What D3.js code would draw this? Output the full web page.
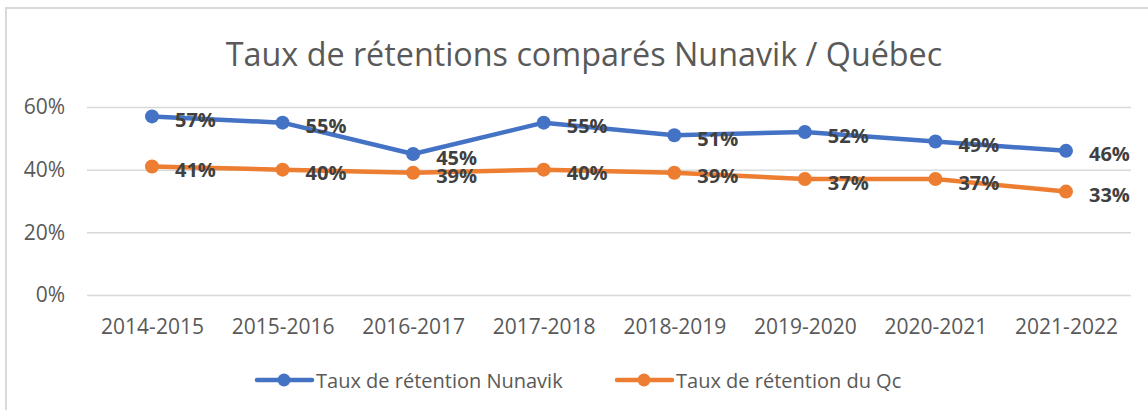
<!DOCTYPE html>
<meta charset="utf-8">
<head>
  <title>Taux de rétentions comparés Nunavik / Québec</title>
</head>
<style>
body { margin: 0; background: #fff; }
text { font-family: "Open Sans", sans-serif; }
.grid line { stroke: #d9d9d9; stroke-width: 1.5px; }
.grid .domain, .xaxis .domain { display: none; }
.tick text { fill: #595959; font-size: 21px; }
.lbl { font-weight: bold; font-size: 20px; fill: #404040; }
</style>
<body>
<script src="https://d3js.org/d3.v7.min.js"></script>
<script>

  var annees = ["2014-2015", "2015-2016", "2016-2017", "2017-2018",
                "2018-2019", "2019-2020", "2020-2021", "2021-2022"];
  var nunavik = [0.57, 0.55, 0.45, 0.55, 0.51, 0.52, 0.49, 0.46];
  var quebec  = [0.41, 0.40, 0.39, 0.40, 0.39, 0.37, 0.37, 0.33];
  var yTicks = [0, 0.2, 0.4, 0.6];
  var series = [
    {nom: "Taux de rétention Nunavik", valeurs: nunavik, couleur: "#4472c4"},
    {nom: "Taux de rétention du Qc",   valeurs: quebec,  couleur: "#ed7d31"}
  ];

  var width = 1148,
      height = 410;
  var svg = d3.select("body").append("svg")
      .attr("width", width)
      .attr("height", height);

  // cadre du graphique
  svg.append("rect")
      .attr("x", 6).attr("y", 8)
      .attr("width", width + 20).attr("height", height + 20)
      .attr("fill", "none")
      .attr("stroke", "#d9d9d9")
      .attr("stroke-width", 2);

  svg.append("text")
      .attr("x", 584).attr("y", 66)
      .attr("text-anchor", "middle")
      .attr("fill", "#595959")
      .style("font-size", "32.3px")
      .text("Taux de rétentions comparés Nunavik / Québec");

  var x = d3.scalePoint().domain(annees).range([152, 1066]);
  var y = d3.scaleLinear().domain([0, 0.6]).range([295, 107]);
  var left = 87, right = 1131;

  // grille + axe y
  svg.append("g")
      .attr("class", "grid")
      .attr("transform", "translate(" + left + ",0)")
      .call(d3.axisLeft(y).tickValues(yTicks)
        .tickSize(-(right - left))
        .tickPadding(22)
        .tickFormat(d3.format(".0%")));

  // axe x
  svg.append("g")
      .attr("class", "xaxis")
      .attr("transform", "translate(0,315)")
      .call(d3.axisBottom(x).tickSize(0).tickPadding(4))
      .selectAll("line").remove();

  var line = d3.line()
      .x(function(d, i) { return x(annees[i]); })
      .y(function(d) { return y(d); });

  series.forEach(function(s) {
    var g = svg.append("g");
    g.append("path")
        .datum(s.valeurs)
        .attr("d", line)
        .attr("fill", "none")
        .attr("stroke", s.couleur)
        .attr("stroke-width", 4.5)
        .attr("stroke-linejoin", "round");
    g.selectAll("circle")
        .data(s.valeurs)
        .enter().append("circle")
        .attr("cx", function(d, i) { return x(annees[i]); })
        .attr("cy", function(d) { return y(d); })
        .attr("r", 7)
        .attr("fill", s.couleur);
    g.selectAll(".lbl")
        .data(s.valeurs)
        .enter().append("text")
        .attr("class", "lbl")
        .attr("x", function(d, i) { return x(annees[i]) + 23; })
        .attr("y", function(d) { return y(d) + 3; })
        .attr("dominant-baseline", "central")
        .text(function(d) { return Math.round(d * 100) + "%"; });
  });

  // légende
  var leg = svg.append("g").attr("transform", "translate(0,380)");
  var legX = [257, 617];
  series.forEach(function(s, i) {
    leg.append("line")
        .attr("x1", legX[i]).attr("x2", legX[i] + 55)
        .attr("stroke", s.couleur).attr("stroke-width", 4.5)
        .attr("stroke-linecap", "round");
    leg.append("circle")
        .attr("cx", legX[i] + 27).attr("r", 6.5)
        .attr("fill", s.couleur);
    leg.append("text")
        .attr("x", legX[i] + 59)
        .attr("dominant-baseline", "central")
        .attr("fill", "#595959")
        .style("font-size", "20px")
        .text(s.nom);
  });

</script>
</body>
